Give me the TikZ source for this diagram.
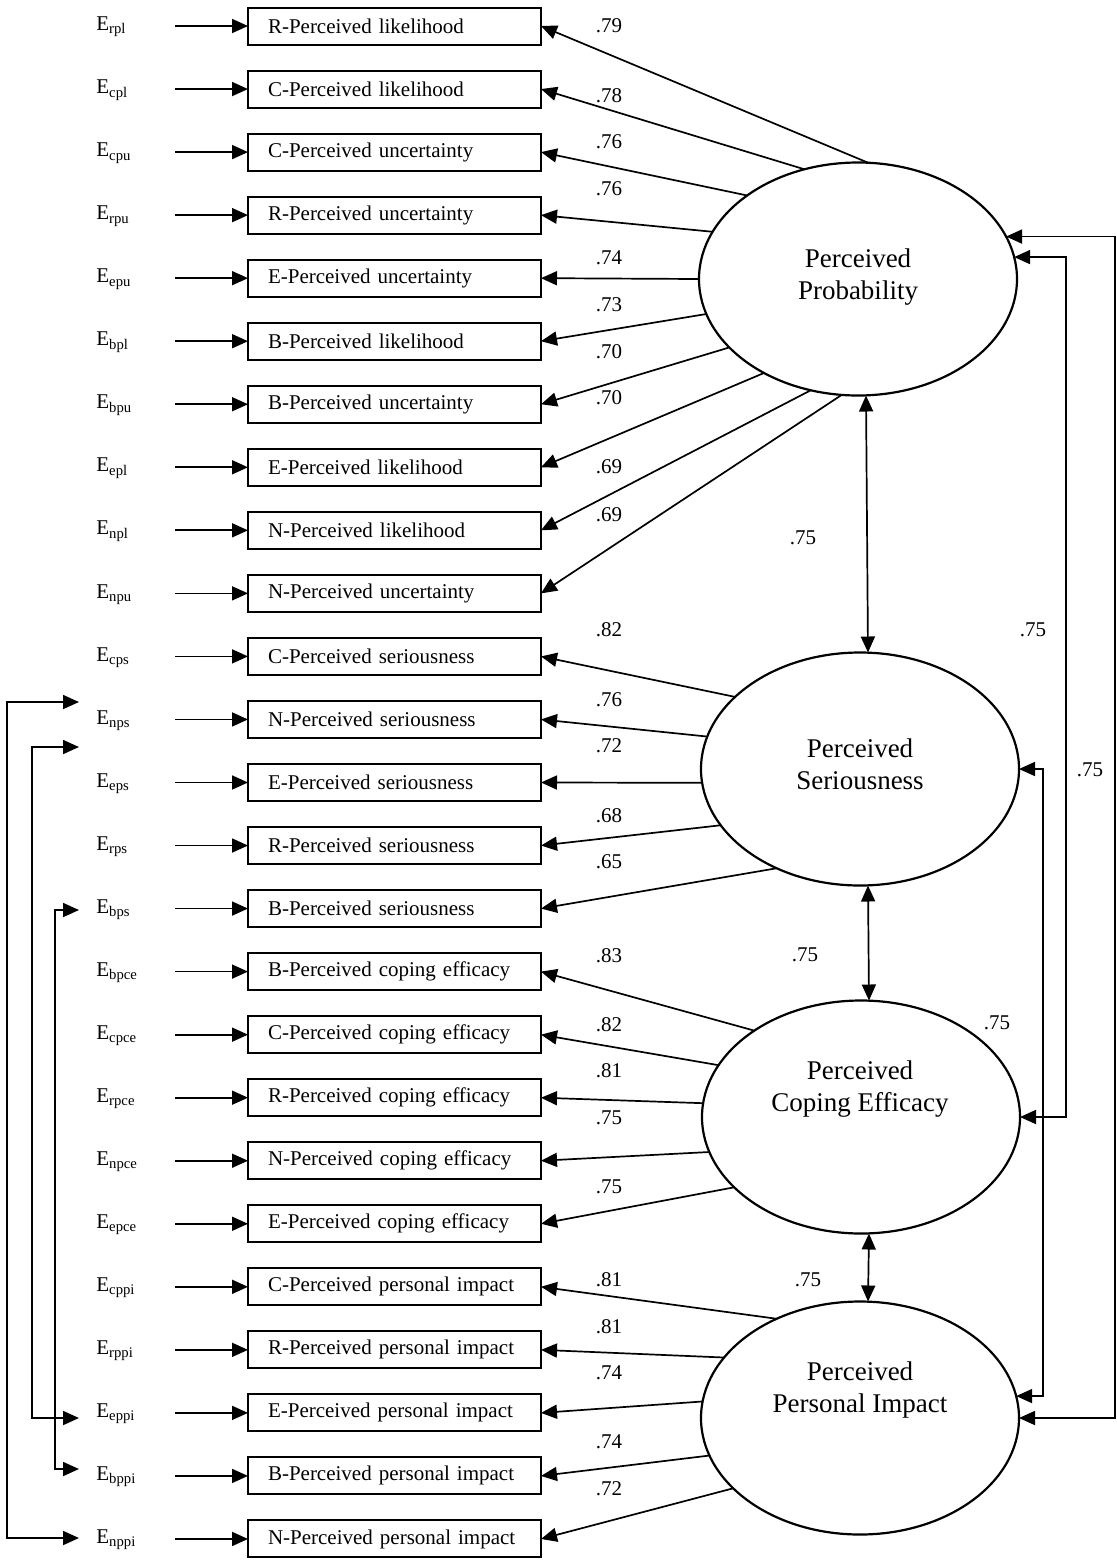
\documentclass[tikz,border=0pt]{standalone}
\usepackage{fontspec}
\setmainfont{Liberation Serif}
\usetikzlibrary{arrows.meta,shapes.geometric}

\begin{document}
\begin{tikzpicture}[x=0.5pt,y=-0.5pt,
  box/.style={draw,line width=1pt,minimum height=18.5pt,text width=126.5pt,
    inner xsep=10pt,inner ysep=0pt,align=left,outer sep=0pt,
    font=\fontsize{10.5}{12}\selectfont},
  latent/.style={draw,ellipse,line width=1.1pt,minimum width=159pt,
    minimum height=116.5pt,inner sep=0pt,outer sep=0pt},
  ltext/.style={align=center,font=\fontsize{13.5}{16}\selectfont},
  elabel/.style={anchor=west,inner sep=0pt,font=\fontsize{10.5}{12}\selectfont},
  num/.style={inner sep=0pt,font=\fontsize{10.5}{12}\selectfont},
  arr/.style={-{Triangle[length=8pt,width=7pt]},line width=0.85pt},
  dbl/.style={{Triangle[length=8pt,width=7pt]}-{Triangle[length=8pt,width=7pt]},line width=0.85pt}]

\useasboundingbox (0,0) rectangle (1117,1560);

% latent factors
\node[latent] (prob) at (858,279) {};
\node[latent] (ser)  at (860,769) {};
\node[latent] (cop)  at (861,1117) {};
\node[latent] (imp)  at (860,1418) {};
\node[ltext] (tprob) at (858,277)  {Perceived\\Probability};
\node[ltext] (tser)  at (860,764)  {Perceived\\Seriousness};
\node[ltext] (tcop)  at (860,1089) {Perceived\\Coping Efficacy};
\node[ltext] (timp)  at (860,1390) {Perceived\\Personal Impact};

% indicators with their error terms
\foreach \i/\txt/\sub in {
  0/R-Perceived likelihood/rpl, 1/C-Perceived likelihood/cpl,
  2/C-Perceived uncertainty/cpu, 3/R-Perceived uncertainty/rpu,
  4/E-Perceived uncertainty/epu, 5/B-Perceived likelihood/bpl,
  6/B-Perceived uncertainty/bpu, 7/E-Perceived likelihood/epl,
  8/N-Perceived likelihood/npl, 9/N-Perceived uncertainty/npu,
  10/C-Perceived seriousness/cps, 11/N-Perceived seriousness/nps,
  12/E-Perceived seriousness/eps, 13/R-Perceived seriousness/rps,
  14/B-Perceived seriousness/bps, 15/B-Perceived coping efficacy/bpce,
  16/C-Perceived coping efficacy/cpce, 17/R-Perceived coping efficacy/rpce,
  18/N-Perceived coping efficacy/npce, 19/E-Perceived coping efficacy/epce,
  20/C-Perceived personal impact/cppi, 21/R-Perceived personal impact/rppi,
  22/E-Perceived personal impact/eppi, 23/B-Perceived personal impact/bppi,
  24/N-Perceived personal impact/nppi} {
  \node[box] (b\i) at (394.5,{26+63.04*\i}) {\txt};
  \node[elabel] (e\i) at (96,{27+63.04*\i}) {E\textsubscript{\sub}};
  \coordinate (s\i) at (175,{26+63.04*\i});
  \draw[arr] (s\i) -- (b\i.west);
}

% loadings
\foreach \i/\f/\a/\v/\ly in {
  0/prob/85/.79/26, 1/prob/116/.78/96, 2/prob/143/.76/142, 3/prob/162/.76/189,
  4/prob/180/.74/258, 5/prob/193/.73/305, 6/prob/208/.70/352, 7/prob/225/.70/398,
  8/prob/247/.69/467, 9/prob/262/.69/515,
  10/ser/150/.82/630, 11/ser/168/.76/700, 12/ser/185/.72/746, 13/ser/202/.68/816,
  14/ser/230/.65/862,
  15/cop/141/.83/956, 16/cop/160/.82/1025, 17/cop/175/.81/1071, 18/cop/193/.75/1118,
  19/cop/209/.75/1187,
  20/imp/130/.81/1280, 21/imp/156/.81/1327, 22/imp/174/.74/1373, 23/imp/194/.74/1442,
  24/imp/209/.72/1489} {
  \draw[arr] (\f.\a) -- (b\i.east);
  \node[num] (n\i) at (609,\ly) {\v};
}

% correlations between adjacent factors
\draw[dbl] ([xshift=4pt]prob.south) -- ([xshift=4pt]ser.north);
\draw[dbl] ([xshift=4pt]ser.south) -- ([xshift=4pt]cop.north);
\draw[dbl] ([xshift=4pt]cop.south) -- ([xshift=4pt]imp.north);
\node[num] (k1) at (803,538) {.75};
\node[num] (k2) at (805,955) {.75};
\node[num] (k3) at (808,1280) {.75};

% correlations on the right
\coordinate (r1) at (1115,0);
\coordinate (r2) at (1066,0);
\coordinate (r3) at (1043,0);
\draw[dbl] (prob.16) -- (prob.16 -| r1) -- (imp.east -| r1) -- (imp.east);
\draw[dbl] (prob.8) -- (prob.8 -| r2) -- (cop.east -| r2) -- (cop.east);
\draw[dbl] (ser.east) -- (ser.east -| r3) -- (imp.8 -| r3) -- (imp.8);
\node[num] (k4) at (1033,630) {.75};
\node[num] (k5) at (1090,770) {.75};
\node[num] (k6) at (997,1023) {.75};

% correlated error terms on the left
\coordinate (l1) at (7,0);
\coordinate (l2) at (32,0);
\coordinate (l3) at (55,0);
\coordinate (a1) at (79,702);
\coordinate (z1) at (79,1538);
\coordinate (a2) at (79,747);
\coordinate (z2) at (79,1418);
\coordinate (a3) at (79,910);
\coordinate (z3) at (79,1469);
\draw[dbl] (a1) -- (a1 -| l1) -- (z1 -| l1) -- (z1);
\draw[dbl] (a2) -- (a2 -| l2) -- (z2 -| l2) -- (z2);
\draw[dbl] (a3) -- (a3 -| l3) -- (z3 -| l3) -- (z3);

\end{tikzpicture}
\end{document}
